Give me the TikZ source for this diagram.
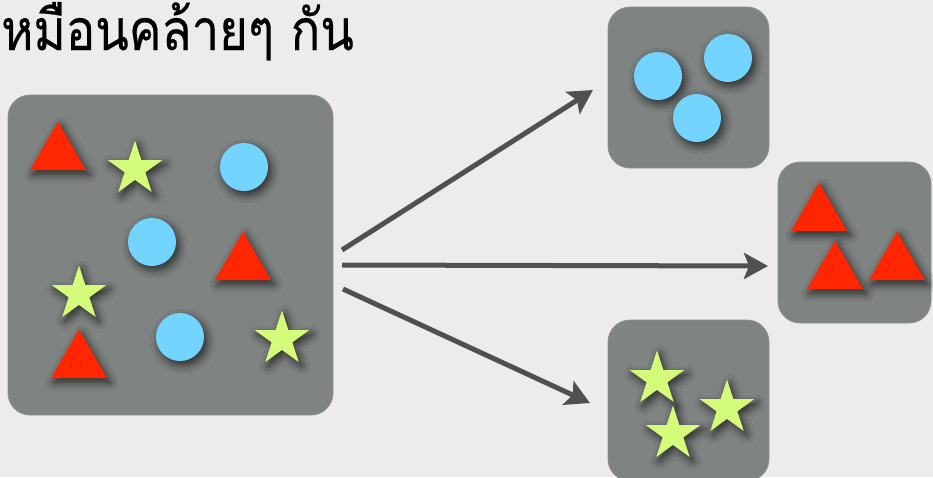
\documentclass[tikz,border=0pt]{standalone}
\usepackage{fontspec}
\newfontfamily\thaifont[Script=Thai,FakeBold=0.4]{Loma}
\usetikzlibrary{shapes.geometric,shadows.blur,arrows.meta}
\definecolor{bg}{HTML}{ECECEE}
\definecolor{boxgray}{HTML}{7F8482}
\definecolor{boxedge}{HTML}{8C908E}
\definecolor{tri}{HTML}{FF2600}
\definecolor{ball}{HTML}{73D4FF}
\definecolor{stary}{HTML}{D4FB79}
\definecolor{arrowgray}{HTML}{505050}
\tikzset{
  box/.style={fill=boxgray, draw=boxedge, line width=0.8pt, rounded corners=22pt, inner sep=0pt},
  shad/.style={blur shadow={shadow xshift=3pt, shadow yshift=-4pt, shadow blur radius=8pt, shadow blur steps=8, shadow opacity=70}},
  starshape/.style={star, star points=5, star point ratio=2.618, minimum size=57pt, inner sep=0pt, fill=stary, shad},
  ballshape/.style={circle, minimum size=48pt, inner sep=0pt, fill=ball, shad},
  trishape/.style={regular polygon, regular polygon sides=3, minimum size=64.7pt, inner sep=0pt, fill=tri, shad},
  flow/.style={draw=arrowgray, line width=5pt, -{Stealth[length=24pt, width=26pt, inset=5pt]}}
}
\begin{document}
\begin{tikzpicture}[x=1pt,y=-1pt]
\fill[bg] (0,0) rectangle (933,477);
\useasboundingbox (0,0) rectangle (933,477);

\node[anchor=base west, inner sep=0pt, font=\thaifont\fontsize{57}{64}\selectfont] (title) at (1,50) {\scalebox{0.86}[1]{หมือนคล้ายๆ กัน}};

% boxes
\node[box, minimum width=325pt, minimum height=320pt] (big) at (170.5,255) {};
\node[box, minimum width=161pt, minimum height=161pt] (top) at (688.5,87.5) {};
\node[box, minimum width=153pt, minimum height=161pt] (mid) at (854.5,242.5) {};
\node[box, minimum width=161pt, minimum height=161pt] (bot) at (688.5,400.5) {};

% big box contents
\node[trishape] (t1) at (58,154) {};
\node[starshape] (s1) at (135,169) {};
\node[ballshape] (c1) at (244,167) {};
\node[ballshape] (c2) at (152,242) {};
\node[trishape] (t2) at (243,264) {};
\node[starshape] (s2) at (79,294) {};
\node[trishape] (t3) at (79,362) {};
\node[ballshape] (c3) at (180,337) {};
\node[starshape] (s3) at (282,339) {};

% top box
\node[ballshape] (c4) at (658,76) {};
\node[ballshape] (c5) at (728,58) {};
\node[ballshape] (c6) at (697,118) {};

% middle box
\node[trishape] (t4) at (819,215) {};
\node[trishape] (t5) at (835,273) {};
\node[trishape] (t6) at (897,264) {};

% bottom box
\node[starshape] (s4) at (657,379) {};
\node[starshape] (s5) at (727,408) {};
\node[starshape] (s6) at (673,434) {};

% arrows
\coordinate (a1) at (342,250);
\coordinate (a2) at (342,265);
\coordinate (a3) at (343,289);
\coordinate (b1) at (593,90);
\coordinate (b2) at (768,266);
\coordinate (b3) at (590,403);
\draw[flow] (a1) -- (b1);
\draw[flow] (a2) -- (b2);
\draw[flow] (a3) -- (b3);
\end{tikzpicture}
\end{document}
